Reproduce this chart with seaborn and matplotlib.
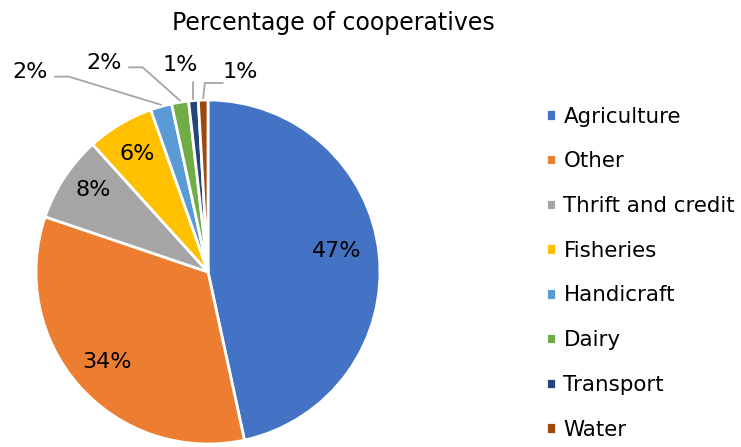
import numpy as np
import matplotlib
matplotlib.use("Agg")
import matplotlib.pyplot as plt
import seaborn as sns

sns.set_style("white")
plt.rcParams['font.family'] = ['DejaVu Sans']
plt.rcParams['text.color'] = 'black'

# Data
categories = ["Agriculture", "Other", "Thrift and credit", "Fisheries",
              "Handicraft", "Dairy", "Transport", "Water"]
shares = [46.6, 33.6, 8.1, 6.3, 2.0, 1.6, 0.9, 0.9]
colors = ["#4472C4", "#ED7D31", "#A5A5A5", "#FFC000",
          "#5B9BD5", "#70AD47", "#264478", "#9E480E"]

fig = plt.figure(figsize=(7.41, 4.47), dpi=100)
ax = fig.add_axes([36 / 741, 3 / 447, 344 / 741, 344 / 447])

wedges, _ = ax.pie(shares, colors=colors, startangle=90, counterclock=False,
                   radius=1.0, wedgeprops=dict(edgecolor="white", linewidth=2))
ax.set_xlim(-1, 1)
ax.set_ylim(-1, 1)
ax.axis("off")

pct = [s / sum(shares) * 100 for s in shares]

# inside labels for the large slices (radius and angle nudge per slice)
inner_r = [0.76, 0.79, 0.82, 0.80]
inner_da = [3, 0, -2, 0]
for w, p, r, da in zip(wedges[:4], pct[:4], inner_r, inner_da):
    mid = np.deg2rad((w.theta1 + w.theta2) / 2 + da)
    ax.text(r * np.cos(mid), r * np.sin(mid), f"{round(p):.0f}%",
            ha="center", va="center", fontsize=16)

# outside labels with leader lines for the small slices
# (text position, elbow point) in axes data units
offsets = [((-1.035, 1.163), (-0.81, 1.136)),
           ((-0.605, 1.215), (-0.38, 1.19)),
           ((-0.163, 1.203), None),
           ((0.186, 1.163), (-0.006, 1.099))]
for w, p, (tpos, elbow) in zip(wedges[4:], pct[4:], offsets):
    mid = np.deg2rad((w.theta1 + w.theta2) / 2)
    ax_pt = (1.0 * np.cos(mid), 1.0 * np.sin(mid))
    ax.text(tpos[0], tpos[1], f"{round(p):.0f}%", ha="center", va="center",
            fontsize=16, clip_on=False)
    if elbow is None:
        xs = [ax_pt[0], ax_pt[0]]
        ys = [ax_pt[1] + 0.01, tpos[1] - 0.1]
    elif elbow[0] < ax_pt[0]:
        xs = [elbow[0] - 0.08, elbow[0], ax_pt[0]]
        ys = [elbow[1], elbow[1], ax_pt[1] + 0.01]
    else:
        xs = [ax_pt[0], ax_pt[0] + 0.01, tpos[0] - 0.1]
        ys = [ax_pt[1] + 0.01, elbow[1], elbow[1]]
    ax.plot(xs, ys, color="#A5A5A5", lw=1.3, clip_on=False)

fig.suptitle("Percentage of cooperatives", x=333 / 741, y=0.975,
             fontsize=17, va="top", color="black")

fig.legend(wedges, categories, loc="center left",
           bbox_to_anchor=(542 / 741, 0.389), frameon=False, fontsize=15.4,
           handlelength=0.45, handleheight=0.45, handletextpad=0.35,
           labelspacing=1.155, borderaxespad=0, borderpad=0.2)

fig.savefig("out.png", dpi=100)
